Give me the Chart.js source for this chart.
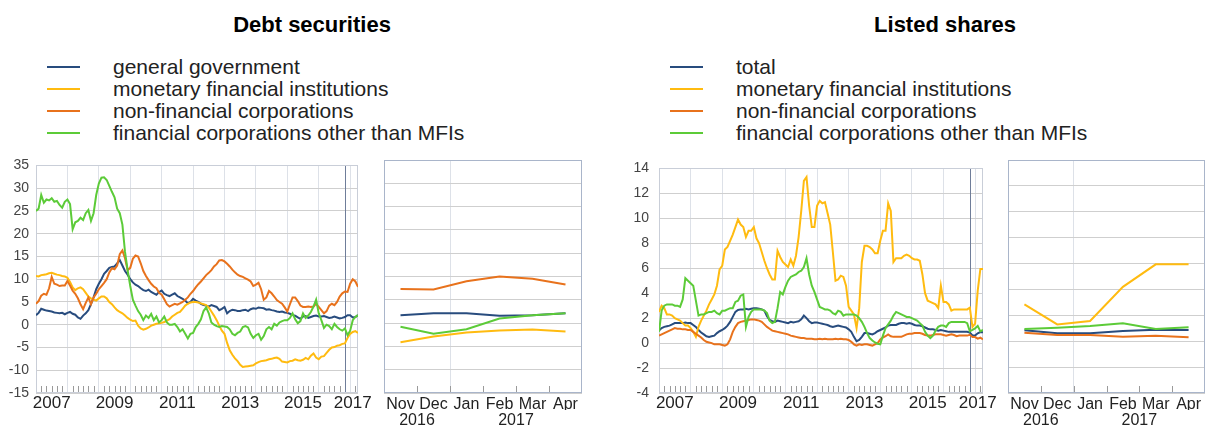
<!DOCTYPE html>
<html><head><meta charset="utf-8">
<script src="https://cdn.jsdelivr.net/npm/chart.js@4.4.1/dist/chart.umd.min.js"></script>
<style>
html,body{margin:0;padding:0;background:#fff;width:1207px;height:430px;overflow:hidden;font-family:"Liberation Sans",Arial,sans-serif;}
.title{position:absolute;top:13px;font-weight:bold;font-size:22px;color:#000;white-space:nowrap;transform:translateX(-50%);line-height:24px;}
.legend{position:absolute;top:56px;font-size:21px;color:#222;}
.legend .row{position:relative;height:22px;line-height:22px;white-space:nowrap;}
.legend .sw{position:absolute;left:0;top:10px;width:33px;height:2px;}
.legend .tx{position:absolute;left:66px;top:0;}
canvas{position:absolute;}
</style></head><body>
<div class="title" style="left:312px">Debt securities</div>
<div class="title" style="left:945px">Listed shares</div>
<div class="legend" id="legDebt" style="left:47px"></div>
<div class="legend" id="legShares" style="left:670px"></div>
<canvas id="debtMain" width="375" height="280" style="left:0;top:150px"></canvas>
<canvas id="debtZoom" width="230" height="280" style="left:370px;top:150px"></canvas>
<canvas id="sharesMain" width="390" height="280" style="left:610px;top:150px"></canvas>
<canvas id="sharesZoom" width="209" height="280" style="left:998px;top:150px"></canvas>
<script>
// ---------- data ----------
const firstYear = 2007;           // monthly data, Jan 2007 .. Apr 2017
const periodCount = 124;
const yearLabels = ['2007','2009','2011','2013','2015','2017'];
const zoomMonths = ['Nov','Dec','Jan','Feb','Mar','Apr'];
const zoomMonthYears = ['2016','2016','2017','2017','2017','2017'];
const zoomYears = ['2016','2017'];

const debtNames = ['general government','monetary financial institutions','non-financial corporations','financial corporations other than MFIs'];
const sharesNames = ['total','monetary financial institutions','non-financial corporations','financial corporations other than MFIs'];
const seriesColors = ['#284c7e','#ffbb10','#e8721c','#5ccb38'];

const debtGG = [2.1,2.6,3.5,3.3,3.1,3.0,2.9,2.7,2.6,2.5,2.6,2.3,
 2.6,2.8,2.4,2.2,1.6,1.3,2.0,2.5,3.2,4.5,6.0,7.8,
 9.0,10.0,11.2,11.8,12.5,12.7,12.8,13.5,14.2,13.0,11.8,11.0,
 10.0,9.3,8.8,8.5,8.0,7.6,7.4,7.7,7.2,6.9,6.6,7.2,
 7.5,6.8,6.5,6.3,6.6,6.9,6.3,6.0,5.7,5.3,4.7,5.0,
 5.7,5.3,5.0,4.6,4.3,4.2,4.0,4.3,4.1,3.9,3.2,3.5,
 3.9,2.5,3.0,3.3,3.2,3.0,3.0,3.2,3.3,3.0,3.4,3.6,
 3.5,3.8,3.7,3.6,3.3,3.4,3.2,3.1,2.9,2.8,2.9,2.7,
 2.6,2.4,2.1,2.0,1.6,1.3,1.8,1.9,1.5,1.7,1.9,2.0,
 1.8,1.8,1.9,1.7,1.5,1.6,1.8,1.6,1.4,1.5,1.7,2.1,
 2.1,1.6,1.7,2.1];
const debtMFI = [10.7,10.6,10.9,11.0,11.1,11.3,11.4,11.2,11.0,10.9,10.7,10.6,
 10.3,9.4,8.2,7.6,8.0,8.2,7.8,7.0,6.2,5.8,5.5,5.3,
 5.8,6.2,6.2,5.8,5.0,4.5,3.8,3.2,2.8,2.5,2.0,1.5,
 1.1,0.8,0.9,-0.2,-0.8,-1.1,-0.9,-0.6,-0.2,0.0,0.2,0.3,
 0.4,0.6,0.9,1.2,1.8,2.2,2.6,2.8,3.5,4.2,4.6,4.9,
 5.0,5.0,4.9,4.7,4.5,4.3,3.8,2.9,2.0,1.0,-0.2,-1.3,
 -2.0,-4.0,-5.6,-6.6,-7.4,-8.0,-8.8,-9.3,-9.2,-9.1,-9.0,-8.9,
 -8.5,-8.2,-8.0,-7.9,-7.8,-7.6,-7.5,-7.3,-7.2,-7.5,-8.1,-8.2,
 -8.3,-8.0,-7.9,-7.6,-7.8,-7.9,-7.7,-7.3,-7.6,-6.8,-6.3,-7.2,
 -7.6,-7.0,-6.9,-6.2,-5.5,-5.0,-4.9,-4.6,-4.5,-4.2,-4.1,-2.9,
 -2.0,-1.6,-1.4,-1.8];
const debtNFC = [4.6,5.2,6.4,6.8,6.6,8.0,10.5,9.0,8.8,8.5,8.6,8.6,
 9.6,8.6,7.5,6.8,5.8,4.5,3.4,4.8,6.0,4.5,6.0,6.8,
 7.8,8.5,9.2,10.0,11.5,12.4,12.2,13.0,15.5,16.3,14.6,12.0,
 12.5,14.5,15.2,15.0,13.5,11.8,10.7,9.8,9.0,8.4,8.0,7.0,
 6.6,5.6,4.5,4.0,4.3,4.6,4.4,4.7,5.0,5.5,6.0,6.8,
 7.4,8.2,8.9,9.5,10.2,10.9,11.4,12.0,12.8,13.3,14.1,14.2,
 13.9,13.4,12.8,12.1,11.5,11.0,10.7,10.5,10.2,9.9,9.5,8.5,
 8.8,9.2,7.8,5.5,6.0,7.4,6.9,6.2,5.4,5.0,4.6,3.8,
 2.9,4.5,6.0,6.0,5.2,4.2,3.9,3.9,4.0,3.9,4.0,4.6,
 3.9,3.2,2.5,3.0,4.2,4.6,4.3,5.0,6.2,6.9,7.3,7.2,
 9.0,10.0,9.5,8.3];
const debtOFI = [25.0,25.5,28.5,26.8,27.5,27.3,27.8,27.0,27.2,26.3,25.7,27.0,
 27.5,26.5,21.0,22.5,22.8,23.5,23.0,24.5,25.2,22.8,24.5,28.5,
 31.0,32.3,32.4,31.8,30.5,29.2,28.0,25.5,24.5,22.0,16.0,12.0,
 8.5,5.5,4.2,3.0,2.2,1.0,2.0,1.5,2.4,1.0,1.8,0.5,
 1.0,1.8,0.5,0.0,0.0,0.2,-0.5,-1.5,-1.0,-2.0,-3.0,-2.0,
 -1.8,-0.5,0.2,1.2,3.0,3.8,2.5,0.5,0.0,-0.3,-0.5,-0.3,
 -0.4,-0.5,-1.0,-2.0,-2.3,-1.8,-1.5,-0.5,-0.3,-0.6,-2.0,-2.9,
 -2.3,-2.0,-3.3,-2.5,-1.0,-0.5,-1.0,0.2,-0.2,0.5,0.8,1.0,
 1.0,1.5,2.5,1.2,0.3,0.8,2.5,1.5,2.0,2.8,4.0,5.5,
 2.5,1.0,-0.7,0.0,-0.3,-1.0,0.2,-0.5,-1.0,-1.3,-0.8,-2.3,
 -1.3,1.0,1.7,2.1];

const sharesTotal = [1.0,1.2,1.3,1.35,1.4,1.5,1.6,1.6,1.6,1.6,1.65,1.6,
 1.6,1.45,1.3,1.05,0.85,0.7,0.55,0.5,0.55,0.6,0.8,0.95,
 1.05,1.2,1.4,1.7,2.1,2.5,2.65,2.7,2.7,2.75,2.7,2.75,
 2.8,2.8,2.75,2.7,2.6,2.15,1.85,1.75,1.7,1.8,1.75,1.7,
 1.65,1.6,1.7,1.65,1.7,1.75,1.9,2.2,2.0,1.75,1.6,1.65,
 1.65,1.6,1.55,1.5,1.45,1.35,1.3,1.35,1.4,1.35,1.3,1.25,
 1.1,0.9,0.5,0.15,0.25,0.5,0.8,0.8,0.75,0.7,0.8,0.95,
 1.05,1.15,1.25,1.4,1.45,1.45,1.45,1.55,1.6,1.6,1.55,1.6,
 1.55,1.45,1.4,1.4,1.35,1.25,1.15,1.1,1.1,1.05,1.0,1.05,
 1.0,0.95,0.9,0.9,0.9,0.9,0.9,0.9,0.9,0.9,0.84,0.61,
 0.61,0.79,0.89,0.87];
const sharesMFI = [2.5,3.0,2.8,2.3,2.3,2.2,2.0,1.9,1.8,1.6,1.4,1.4,
 1.2,0.9,0.5,1.3,1.8,2.2,2.6,3.1,3.5,3.9,4.6,5.9,
 6.2,7.5,7.7,8.2,8.7,9.3,9.9,9.5,9.3,8.5,9.0,9.0,
 9.3,8.4,8.0,7.3,6.6,6.0,5.5,5.1,5.1,7.4,6.9,6.5,
 6.3,6.1,6.7,6.2,7.0,8.5,10.6,13.0,13.3,11.0,9.3,9.3,
 11.0,11.4,11.2,11.3,10.4,9.5,7.3,5.0,5.1,5.4,5.3,4.6,
 2.9,2.6,2.3,1.2,2.8,6.5,7.8,7.8,7.7,7.5,7.2,7.2,
 8.2,9.0,9.0,11.2,10.6,6.5,6.8,6.8,6.8,7.0,7.1,7.0,
 6.8,6.7,6.7,6.6,5.5,4.0,3.4,3.3,3.2,3.1,2.8,4.6,
 3.3,3.3,3.1,2.6,2.7,2.7,2.7,2.7,2.7,2.7,2.84,1.3,
 1.56,4.2,5.94,5.94];
const sharesNFC = [0.6,0.7,0.8,0.9,1.0,1.1,1.2,1.15,1.15,1.1,1.1,1.05,
 1.05,0.9,0.75,0.6,0.45,0.25,0.1,0.05,0.0,-0.1,-0.1,-0.1,
 -0.15,-0.2,-0.1,0.3,0.9,1.3,1.6,1.7,1.75,1.8,1.85,1.9,
 1.9,1.85,1.8,1.7,1.5,1.3,1.15,1.0,0.95,0.9,0.85,0.8,
 0.75,0.7,0.6,0.55,0.5,0.45,0.4,0.4,0.35,0.35,0.35,0.3,
 0.3,0.35,0.3,0.35,0.3,0.3,0.3,0.35,0.3,0.35,0.3,0.3,
 0.25,0.1,-0.1,-0.2,-0.1,-0.15,-0.1,-0.1,-0.15,-0.2,-0.1,0.0,
 0.3,0.45,0.55,0.7,0.55,0.5,0.5,0.5,0.5,0.6,0.7,0.75,
 0.75,0.8,0.8,0.8,0.75,0.65,0.6,0.6,0.65,0.7,0.7,0.7,
 0.65,0.6,0.65,0.7,0.65,0.55,0.6,0.6,0.6,0.6,0.66,0.48,
 0.48,0.35,0.43,0.30];
const sharesOFI = [0.9,2.6,3.0,3.1,3.1,3.1,3.0,3.0,2.9,3.5,5.2,5.0,
 4.8,4.6,3.4,2.2,2.3,2.3,2.4,2.5,2.5,2.6,2.4,2.3,
 2.6,2.6,2.7,2.8,2.8,3.3,3.4,3.8,3.9,1.3,2.1,2.5,
 2.7,2.7,2.7,2.7,2.6,2.4,1.8,1.6,1.7,2.8,4.1,3.9,
 4.5,5.0,5.3,5.4,5.5,5.7,5.8,6.1,6.8,5.5,4.6,4.1,
 3.5,2.9,2.8,2.7,2.7,2.6,2.4,2.3,2.6,2.5,2.2,2.3,
 2.3,2.3,2.3,2.2,2.0,1.7,1.3,0.8,0.4,0.2,0.05,-0.05,
 -0.1,0.6,1.2,1.5,1.8,2.2,2.5,2.4,2.3,2.2,2.1,2.1,
 2.0,1.9,1.8,1.6,1.4,0.9,0.6,0.4,0.6,1.0,1.3,1.4,
 1.4,1.3,1.6,1.7,1.7,1.7,1.7,1.7,1.7,1.6,0.94,1.05,
 1.17,1.38,0.94,1.07];

// ---------- styling ----------
const FONT = "'Liberation Sans', Arial, sans-serif";
Chart.defaults.font.family = FONT;
const H_GRID = '#cfcfcf';
const V_GRID = '#dde1e8';
const FRAME = '#c9ced8';
const ZOOM_FRAME = '#a9b5ca';
const MARKER = '#6f7d99';
const TICK = '#9a9a9a';
const TRANSPARENT = 'rgba(0,0,0,0)';

const periodIndex = Array.from({length: periodCount}, (_, i) => i);

const framePlugin = {
  id: 'frame',
  beforeDatasetsDraw(chart, args, o) {
    const {ctx, chartArea: a, scales} = chart;
    const x = scales.x;
    ctx.save();
    ctx.lineWidth = 1;
    if (o.minor) {
      ctx.strokeStyle = TICK;
      ctx.beginPath();
      o.minor.forEach(v => {
        const px = Math.round(x.getPixelForValue(v)) + 0.5;
        ctx.moveTo(px, a.bottom);
        ctx.lineTo(px, a.bottom - o.tickLen);
      });
      ctx.stroke();
    }
    if (o.marker != null) {
      const px = Math.round(x.getPixelForValue(o.marker)) + 0.5;
      ctx.strokeStyle = MARKER;
      ctx.beginPath(); ctx.moveTo(px, a.top); ctx.lineTo(px, a.bottom); ctx.stroke();
    }
    ctx.strokeStyle = o.color;
    ctx.strokeRect(Math.round(a.left) + 0.5, Math.round(a.top) + 0.5,
                   Math.round(a.right - a.left) - 1, Math.round(a.bottom - a.top) - 1);
    ctx.restore();
  }
};

function datasets(series, names) {
  return series.map((s, i) => ({
    label: names[i], data: s, borderColor: seriesColors[i], backgroundColor: seriesColors[i],
    borderWidth: 2, pointRadius: 0, tension: 0, fill: false, order: series.length - i
  }));
}

function legend(el, names) {
  const box = document.getElementById(el);
  names.forEach((n, i) => {
    const r = document.createElement('div'); r.className = 'row';
    r.innerHTML = '<span class="sw" style="background:' + seriesColors[i] + '"></span><span class="tx"></span>';
    r.querySelector('.tx').textContent = n;
    box.appendChild(r);
  });
}

function mainChart(id, series, names, yMin, yMax, yStep, yWidth, yPad, padRight) {
  const last = periodCount - 1;
  const boundaries = periodIndex.filter(i => i % 12 === 0);
  const labelAt = {};
  yearLabels.forEach(l => { labelAt[Math.min((+l - firstYear) * 12 + 6, last - 2)] = l; });
  const tickVals = boundaries.concat(Object.keys(labelAt).map(Number)).sort((a, b) => a - b);
  return new Chart(document.getElementById(id), {
    type: 'line',
    data: { labels: periodIndex, datasets: datasets(series, names) },
    plugins: [framePlugin],
    options: {
      responsive: false, animation: false, events: [],
      layout: { padding: { top: 10, right: padRight, left: 0, bottom: 0 } },
      plugins: { legend: { display: false }, tooltip: { enabled: false },
        frame: { color: FRAME, marker: periodCount - zoomMonths.length, tickLen: 7,
                 minor: periodIndex.filter(i => i % 2 === 0 && i % 12 !== 0) } },
      scales: {
        x: { type: 'linear', min: 0, max: last,
             afterBuildTicks: s => { s.ticks = tickVals.map(v => ({ value: v })); },
             afterFit: s => { s.height = 37; },
             ticks: { autoSkip: false, maxRotation: 0, padding: 0, color: '#222',
                      font: { size: 17 }, callback: v => labelAt[v] || '' },
             grid: { drawTicks: false, color: c => (c.tick && c.tick.value % 12 === 0) ? V_GRID : TRANSPARENT },
             border: { display: false } },
        y: { min: yMin, max: yMax,
             afterFit: s => { s.width = yWidth; },
             ticks: { stepSize: yStep, padding: yPad, color: '#444', font: { size: 14 } },
             grid: { drawTicks: false, color: H_GRID },
             border: { display: false } }
      }
    }
  });
}

function zoomChart(id, series, names, yMin, yMax, yStep, padLeft, padRight) {
  const n = zoomMonths.length;
  const idx = zoomMonths.map((_, i) => i);
  const bounds = idx.slice(1).map(i => i - 0.5);
  const yearBound = idx.filter(i => i > 0 && zoomMonthYears[i] !== zoomMonthYears[i - 1]).map(i => i - 0.5);
  const yearPos = zoomYears.map(y => {
    const m = idx.filter(i => zoomMonthYears[i] === y);
    return m.reduce((a, b) => a + b, 0) / m.length;
  });
  const sl = series.map(s => s.slice(-n));
  return new Chart(document.getElementById(id), {
    type: 'line',
    data: { labels: idx, datasets: datasets(sl, names) },
    plugins: [framePlugin],
    options: {
      responsive: false, animation: false, events: [],
      layout: { padding: { top: 10, right: padRight, left: padLeft, bottom: 0 } },
      plugins: { legend: { display: false }, tooltip: { enabled: false },
        frame: { color: ZOOM_FRAME, marker: null, tickLen: 7, minor: bounds } },
      scales: {
        x: { type: 'linear', min: -0.5, max: n - 0.5, weight: 0,
             afterBuildTicks: s => { s.ticks = idx.concat(yearBound).map(v => ({ value: v })); },
             afterFit: s => { s.height = 17; },
             ticks: { autoSkip: false, maxRotation: 0, padding: 2, color: '#222', font: { size: 16 },
                      callback: v => Number.isInteger(v) ? zoomMonths[v] : '' },
             grid: { drawTicks: false, color: c => (c.tick && yearBound.includes(c.tick.value)) ? V_GRID : TRANSPARENT },
             border: { display: false } },
        x2: { type: 'linear', position: 'bottom', min: -0.5, max: n - 0.5, weight: 1,
             afterBuildTicks: s => { s.ticks = yearPos.map(v => ({ value: v })); },
             afterFit: s => { s.height = 20; },
             ticks: { autoSkip: false, maxRotation: 0, padding: 1, color: '#222', font: { size: 16 },
                      callback: v => zoomYears[yearPos.indexOf(v)] },
             grid: { display: false, drawTicks: false }, border: { display: false } },
        y: { min: yMin, max: yMax,
             afterFit: s => { s.width = 0; },
             ticks: { display: false, stepSize: yStep },
             grid: { drawTicks: false, color: H_GRID },
             border: { display: false } }
      }
    }
  });
}

legend('legDebt', debtNames);
legend('legShares', sharesNames);
const debtSeries = [debtGG, debtMFI, debtNFC, debtOFI];
const sharesSeries = [sharesTotal, sharesMFI, sharesNFC, sharesOFI];
mainChart('debtMain', debtSeries, debtNames, -15, 35, 5, 36, 7, 17);
zoomChart('debtZoom', debtSeries, debtNames, -15, 35, 5, 14, 18);
mainChart('sharesMain', sharesSeries, sharesNames, -4, 14, 2, 49, 10, 17);
zoomChart('sharesZoom', sharesSeries, sharesNames, -4, 14, 2, 10, 2);
</script>
</body></html>
